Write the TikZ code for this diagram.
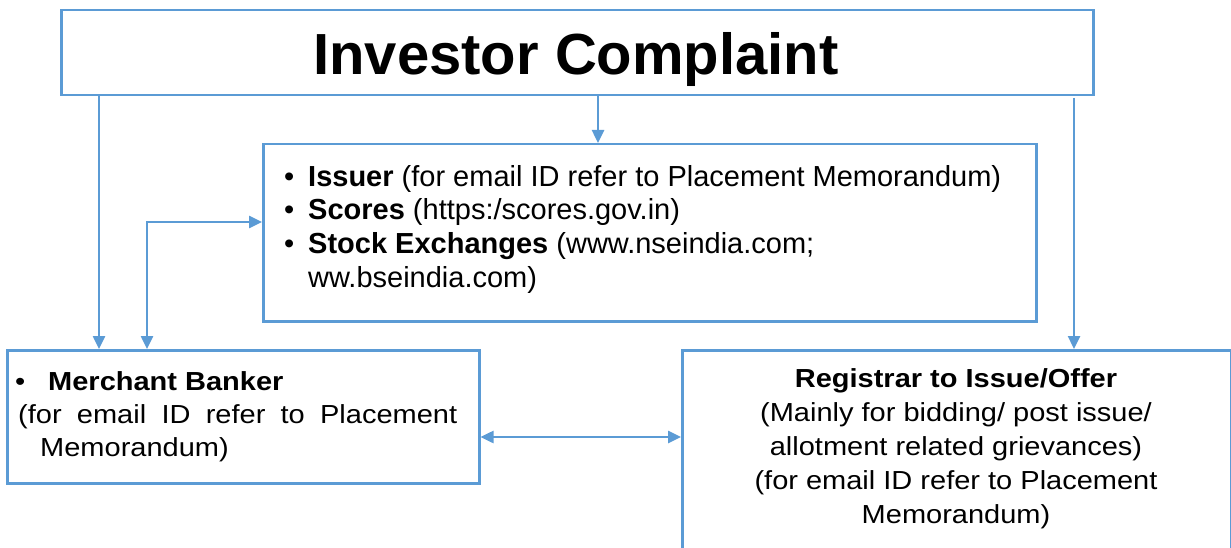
\documentclass[tikz,border=0pt]{standalone}
\usepackage{fontspec}
\setmainfont{Liberation Sans}
\usetikzlibrary{arrows.meta}
\definecolor{lineblue}{HTML}{5B9BD5}
\tikzset{
  box/.style={draw=lineblue, line width=2.5pt, anchor=north west, inner sep=0pt},
  conn/.style={draw=lineblue, line width=2.5pt, -{Triangle[length=13pt,width=12pt]}},
  dconn/.style={draw=lineblue, line width=2.5pt, {Triangle[length=13pt,width=12pt]}-{Triangle[length=13pt,width=12pt]}},
  txt/.style={inner sep=0pt, font=\fontsize{29}{33.5}\selectfont},
  ltxt/.style={txt, anchor=base west},
  ctxt/.style={txt, anchor=base},
}
\newcommand{\bul}{\makebox[24pt][l]{•}}
\newcommand{\sq}[1]{\scalebox{1}[0.9]{#1}}

\begin{document}
\begin{tikzpicture}[x=1pt,y=-1pt]
\useasboundingbox (0,0) rectangle (1231,548);
\clip (0,0) rectangle (1231,548);

% boxes
\node[box, minimum width=1032pt, minimum height=85pt] (top) at (60,9) {};
\node[box, minimum width=773pt, minimum height=177pt] (mid) at (262,143) {};
\node[box, minimum width=472pt, minimum height=133pt] (merch) at (6,349) {};
\node[box, minimum width=549pt, minimum height=240pt] (reg) at (681,349) {};

% title
\node[inner sep=0pt, anchor=base, font=\fontsize{58}{62}\selectfont\bfseries] (title) at (576,75) {Investor Complaint};

% middle box text
\node[ltxt] (m1) at (284,186) {\bul\textbf{Issuer} (for email ID refer to Placement Memorandum)};
\node[ltxt] (m2) at (284,219) {\bul\textbf{Scores} (https:/scores.gov.in)};
\node[ltxt] (m3) at (284,253) {\bul\textbf{Stock Exchanges} (www.nseindia.com;};
\node[ltxt] (m4) at (308,287) {ww.bseindia.com)};

% merchant text
\node[ltxt] (b1) at (15,390) {\sq{\makebox[33pt][l]{•}\textbf{Merchant Banker}}};
\node[ltxt] (b2) at (18,423) {\sq{\makebox[439pt][s]{(for\hfill email\hfill ID\hfill refer\hfill to\hfill Placement}}};
\node[ltxt] (b3) at (40,456) {\sq{Memorandum)}};

% registrar text
\node[ctxt] (r1) at (956,387) {\sq{\textbf{Registrar to Issue/Offer}}};
\node[ctxt] (r2) at (956,421) {\sq{(Mainly for bidding/ post issue/}};
\node[ctxt] (r3) at (956,455) {\sq{allotment related grievances)}};
\node[ctxt] (r4) at (956,489) {\sq{(for email ID refer to Placement}};
\node[ctxt] (r5) at (956,523) {\sq{Memorandum)}};

% connector helper coordinates
\coordinate (xl) at (99,0);
\coordinate (xm) at (598,0);
\coordinate (xr) at (1074,0);
\coordinate (xb) at (147,0);
\coordinate (bend) at (147,222);
\coordinate (rstart) at (1074,98);

% connectors
\draw[conn] (top.south -| xl) -- (merch.north -| xl);
\draw[conn] (top.south -| xm) -- (mid.north -| xm);
\draw[conn] (rstart) -- (reg.north -| xr);
\draw[dconn] (merch.north -| xb) -- (bend) -- (mid.west |- bend);
\draw[dconn] (merch.east |- 0,437) -- (reg.west |- 0,437);
\end{tikzpicture}
\end{document}
